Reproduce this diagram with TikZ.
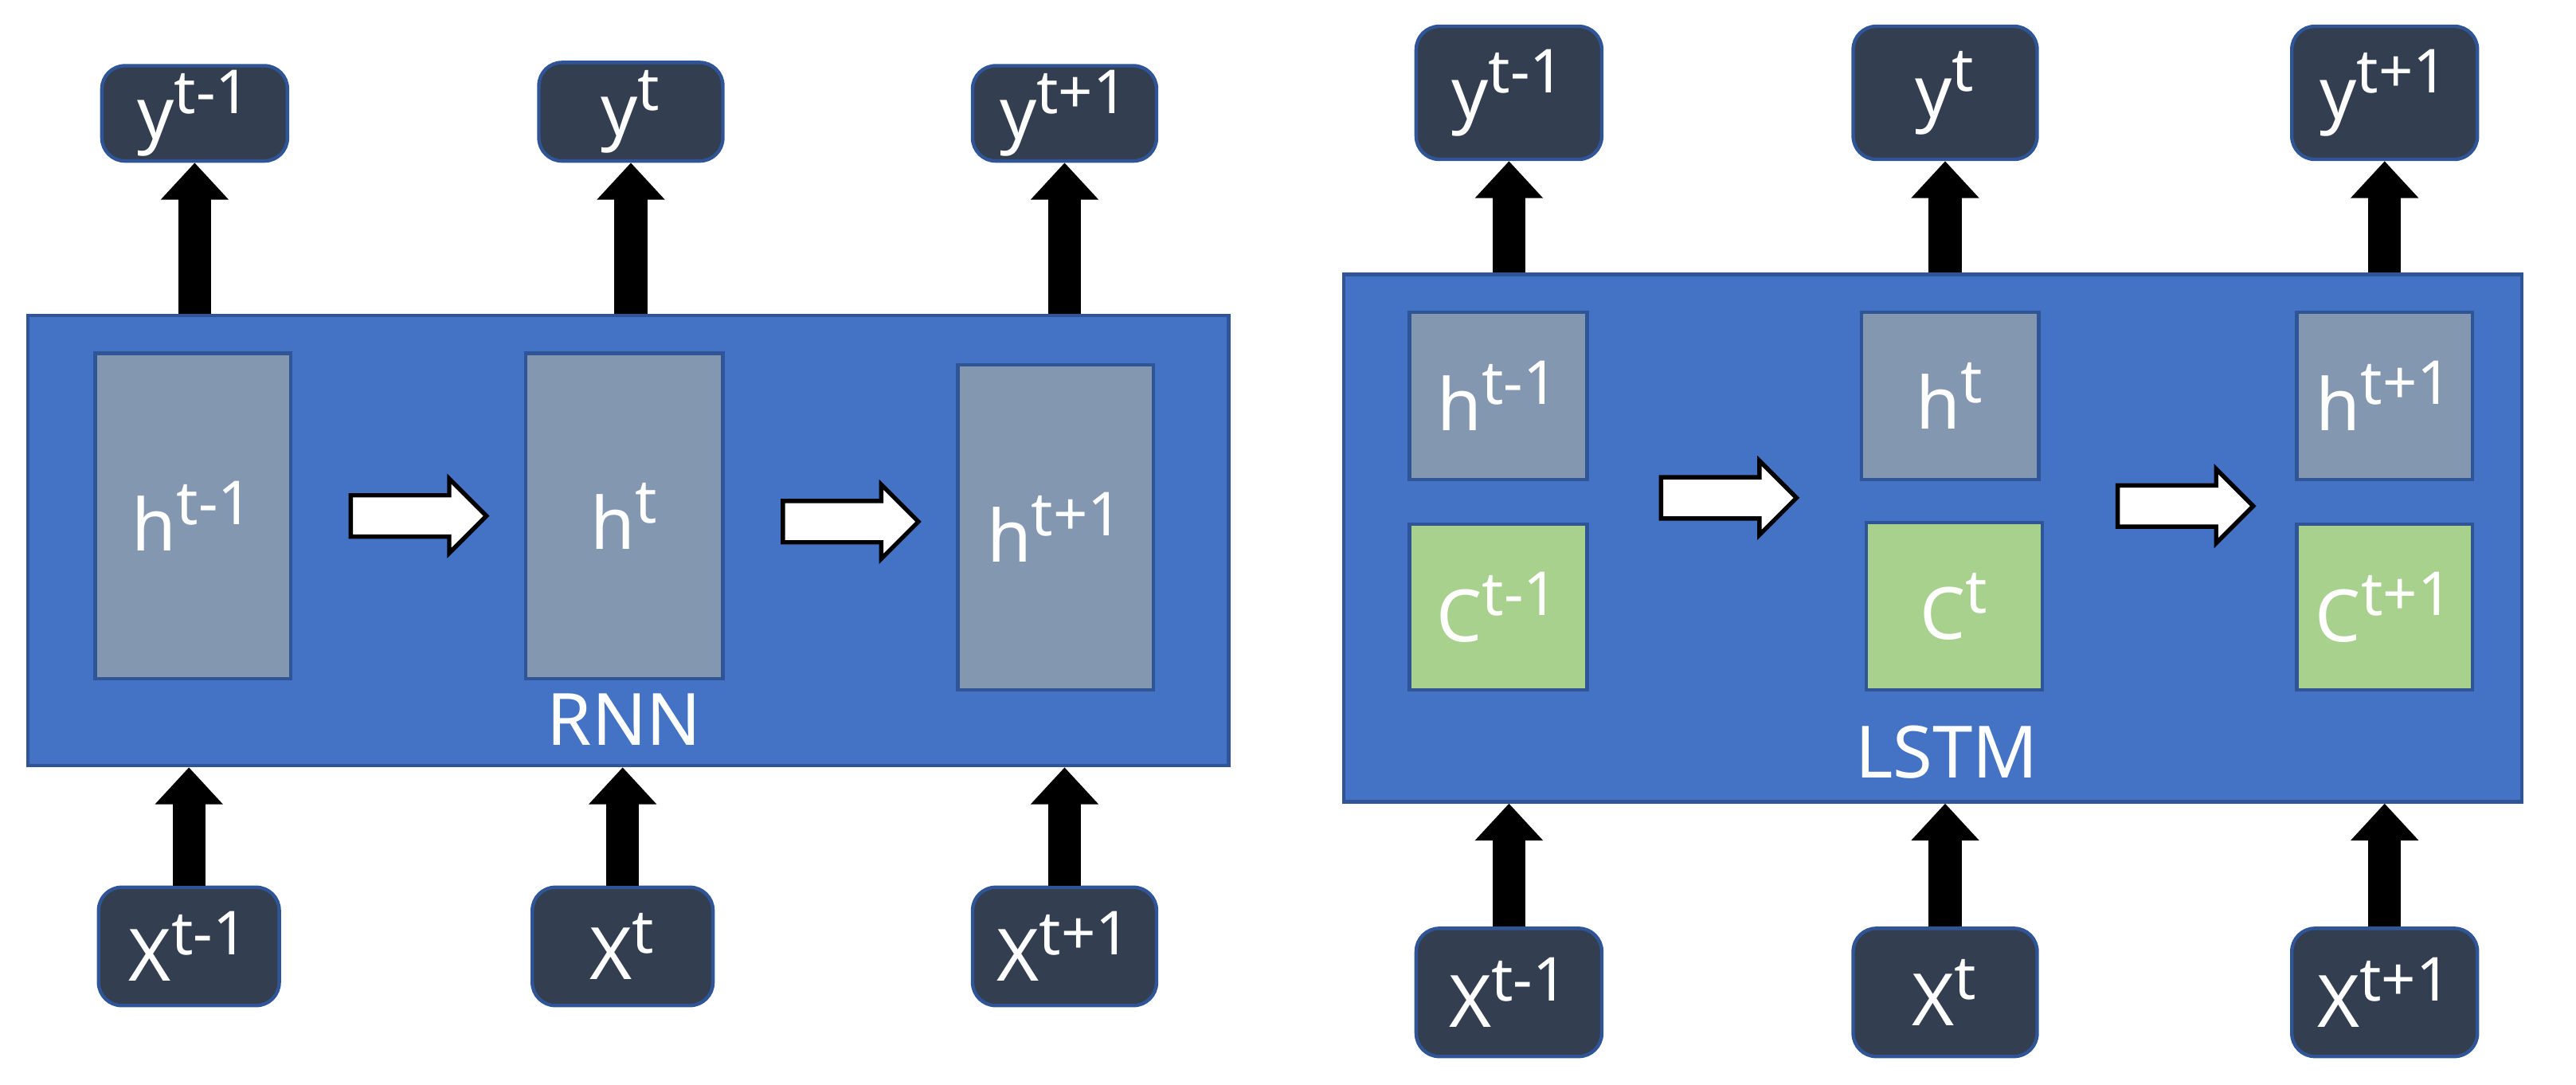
\documentclass[tikz,border=0pt]{standalone}
\usepackage{fontspec}
\setmainfont{Noto Sans}
\usetikzlibrary{positioning, calc, shapes.arrows, arrows.meta}
\definecolor{dark}{RGB}{51,63,80}
\definecolor{edge}{RGB}{47,85,151}
\definecolor{cell}{RGB}{68,114,196}
\definecolor{hid}{RGB}{132,151,176}
\definecolor{mem}{RGB}{169,209,142}
\newcommand{\sym}[2]{#1\textsuperscript{\fontsize{21}{25}\selectfont #2}}
\tikzset{
IO/.style={draw=edge, line width=1.2pt, fill=dark, rounded corners=8pt, text=white, inner sep=0pt},
Cell/.style={draw=edge, line width=1.2pt, fill=cell, inner sep=0pt},
Hidden/.style={draw=edge, line width=1.2pt, fill=hid, text=white, inner sep=0pt},
Memory/.style={draw=edge, line width=1.2pt, fill=mem, text=white, inner sep=0pt},
Up/.style={line width=0.4cm, -{Triangle[length=0.45cm, width=0.8cm]}},
Step/.style={single arrow, draw=black, line width=1.5pt, fill=white, inner sep=0pt,
single arrow head extend=0.2cm, minimum height=1.65cm}
}
\begin{document}
\begin{tikzpicture}[x=0.02cm, y=-0.02cm, font=\fontsize{25}{29}\selectfont]
    \useasboundingbox (0,0) rectangle (1568,660);
    % RNN
    \node [Cell, minimum width=14.62cm, minimum height=5.48cm] (rnn) at (382.5,329) {};
    \node [white] at (380,438) {RNN};
    \node [Hidden, minimum width=2.38cm, minimum height=3.96cm] (rh1) at (117.5,314) {\sym{h}{t-1}};
    \node [Hidden, minimum width=2.4cm, minimum height=3.96cm] (rh2) at (380,314) {\sym{h}{t}};
    \node [Hidden, minimum width=2.38cm, minimum height=3.96cm] (rh3) at (642.5,321) {\sym{h}{t+1}};
    \node [IO, minimum width=2.26cm, minimum height=1.16cm] (ry1) at (118.5,69) {\sym{y}{t-1}};
    \node [IO, minimum width=2.24cm, minimum height=1.2cm] (ry2) at (384,68) {\sym{y}{t}};
    \node [IO, minimum width=2.24cm, minimum height=1.16cm] (ry3) at (648,69) {\sym{y}{t+1}};
    \node [IO, minimum width=2.2cm, minimum height=1.44cm] (rx1) at (115,576) {\sym{X}{t-1}};
    \node [IO, minimum width=2.2cm, minimum height=1.44cm] (rx2) at (379,576) {\sym{X}{t}};
    \node [IO, minimum width=2.24cm, minimum height=1.44cm] (rx3) at (648,576) {\sym{X}{t+1}};
    \foreach \i in {1,2,3} {
        \draw[Up] (rnn.north -| ry\i) -- (ry\i.south);
        \draw[Up] (rx\i.north) -- (rx\i.north |- rnn.south);
    }
    \node [Step] at ($(rh1.east)!0.5!(rh2.west)$) {\rule{0pt}{0.45cm}};
    \node [Step] at ($(rh2.east)!0.5!(rh3.west)$) {\rule{0pt}{0.45cm}};
    % LSTM
    \node [Cell, minimum width=14.34cm, minimum height=6.42cm] (lstm) at (1176.5,327.5) {};
    \node [white] at (1185,458) {LSTM};
    \node [Hidden, minimum width=2.16cm, minimum height=2.04cm] (lh1) at (912,241) {\sym{h}{t-1}};
    \node [Hidden, minimum width=2.16cm, minimum height=2.04cm] (lh2) at (1187,241) {\sym{h}{t}};
    \node [Hidden, minimum width=2.14cm, minimum height=2.04cm] (lh3) at (1451.5,241) {\sym{h}{t+1}};
    \node [Memory, minimum width=2.16cm, minimum height=2.02cm] (lc1) at (912,369.5) {\sym{C}{t-1}};
    \node [Memory, minimum width=2.14cm, minimum height=2.04cm] (lc2) at (1189.5,369) {\sym{C}{t}};
    \node [Memory, minimum width=2.14cm, minimum height=2.02cm] (lc3) at (1451.5,369.5) {\sym{C}{t+1}};
    \node [IO, minimum width=2.26cm, minimum height=1.62cm] (ly1) at (918.5,56.5) {\sym{y}{t-1}};
    \node [IO, minimum width=2.24cm, minimum height=1.62cm] (ly2) at (1184,56.5) {\sym{y}{t}};
    \node [IO, minimum width=2.26cm, minimum height=1.62cm] (ly3) at (1451.5,56.5) {\sym{y}{t+1}};
    \node [IO, minimum width=2.26cm, minimum height=1.56cm] (lx1) at (918.5,604) {\sym{X}{t-1}};
    \node [IO, minimum width=2.24cm, minimum height=1.56cm] (lx2) at (1184,604) {\sym{X}{t}};
    \node [IO, minimum width=2.26cm, minimum height=1.56cm] (lx3) at (1451.5,604) {\sym{X}{t+1}};
    \foreach \i in {1,2,3} {
        \draw[Up] (lstm.north -| ly\i) -- (ly\i.south);
        \draw[Up] (lx\i.north) -- (lx\i.north |- lstm.south);
    }
    \node [Step] at (1046,303) {\rule{0pt}{0.45cm}};
    \node [Step] at (1324,308) {\rule{0pt}{0.45cm}};
\end{tikzpicture}
\end{document}
